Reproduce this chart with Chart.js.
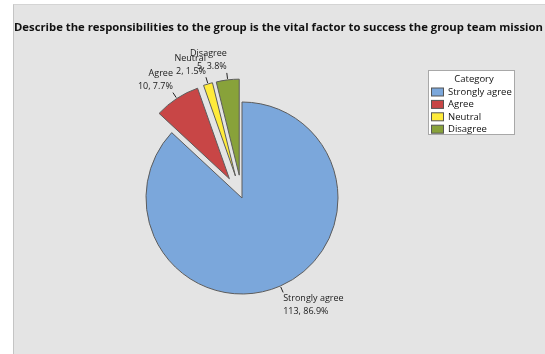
<!DOCTYPE html>
<html>
<head>
<meta charset="utf-8">
<script src="https://cdn.jsdelivr.net/npm/chart.js@4.4.1/dist/chart.umd.min.js"></script>
<style>
    html, body { margin: 0; padding: 0; background: #ffffff; }
    #wrap { position: relative; width: 545px; height: 354px; overflow: hidden; }
    #panel {
        position: absolute; left: 13px; top: 4px; right: 0; bottom: 0;
        background: #e4e4e4;
        border-left: 1px solid #c4c4c4;
        border-top: 1px solid #d4d4d4;
    }
    #chart { position: absolute; left: 0; top: 0; }
</style>
</head>
<body>
<div id="wrap">
    <div id="panel"></div>
    <canvas id="chart" width="545" height="354"></canvas>
</div>
<script>
const chartTitle = 'Describe the responsibilities to the group is the vital factor to success the group team mission';
const legendTitle = 'Category';
const categories = ['Strongly agree', 'Agree', 'Neutral', 'Disagree'];
const counts = [113, 10, 2, 5];
const sliceColors = ['#7BA7DB', '#C84646', '#FFEB3B', '#88A23A'];
// pulled-out distance of each slice, px
const explode = [0, 23, 23, 23];

const FONT = "'Open Sans', 'Noto Sans', sans-serif";
const total = counts.reduce((a, b) => a + b, 0);

function sliceCentre(arc, i) {
    const mid = (arc.startAngle + arc.endAngle) / 2;
    const d = explode[i] || 0;
    return { mid, x: arc.x + Math.cos(mid) * d, y: arc.y + Math.sin(mid) * d };
}

// move exploded slices out along their bisector without touching their radius
const explodePlugin = {
    id: 'explode',
    afterDatasetUpdate(chart, args) {
        const meta = chart.getDatasetMeta(args.index);
        meta.data.forEach((arc, i) => {
            const dist = explode[i] || 0;
            if (!dist) return;
            arc.draw = function (ctx) {
                const mid = (this.startAngle + this.endAngle) / 2;
                ctx.save();
                ctx.translate(Math.cos(mid) * dist, Math.sin(mid) * dist);
                Chart.ArcElement.prototype.draw.call(this, ctx);
                ctx.restore();
            };
        });
    }
};

// title, slice labels with leader lines, category box
const annotatePlugin = {
    id: 'annotate',
    afterDatasetsDraw(chart) {
        const ctx = chart.ctx;
        const meta = chart.getDatasetMeta(0);

        ctx.save();
        ctx.fillStyle = '#111111';
        ctx.font = `bold 11.3px ${FONT}`;
        ctx.textAlign = 'left';
        ctx.textBaseline = 'alphabetic';
        ctx.fillText(chartTitle, 14, 31);

        ctx.font = `9px ${FONT}`;
        ctx.textBaseline = 'middle';
        meta.data.forEach((arc, i) => {
            const c = sliceCentre(arc, i);
            const r = arc.outerRadius;
            const dx = Math.cos(c.mid), dy = Math.sin(c.mid);
            const x1 = c.x + dx * (r + 1), y1 = c.y + dy * (r + 1);
            const x2 = c.x + dx * (r + 7), y2 = c.y + dy * (r + 7);
            ctx.strokeStyle = '#222222';
            ctx.lineWidth = 1;
            ctx.beginPath();
            ctx.moveTo(x1, y1);
            ctx.lineTo(x2, y2);
            ctx.stroke();

            const pct = (counts[i] / total * 100).toFixed(1);
            const lines = [categories[i], `${counts[i]}, ${pct}%`];
            ctx.textAlign = dx >= 0 ? 'left' : 'right';
            const top = dy >= 0 ? y2 + 6 : y2 - 6 - 13;
            ctx.fillStyle = '#1a1a1a';
            lines.forEach((t, k) => ctx.fillText(t, x2, top + k * 13));
        });

        // category box, clipped at its lower edge
        const bx = 428.5, by = 70.5, bw = 86, bh = 64;
        ctx.fillStyle = '#ffffff';
        ctx.fillRect(bx, by, bw, bh);
        ctx.beginPath();
        ctx.rect(bx, by, bw, bh);
        ctx.clip();
        ctx.textAlign = 'center';
        ctx.fillStyle = '#111111';
        ctx.font = `9.5px ${FONT}`;
        ctx.fillText(legendTitle, 474, 79.5);
        ctx.textAlign = 'left';
        categories.forEach((name, i) => {
            const cy = 92 + i * 12.4;
            ctx.fillStyle = sliceColors[i];
            ctx.fillRect(431.5, cy - 4, 12, 8);
            ctx.strokeStyle = '#555555';
            ctx.strokeRect(431.5, cy - 4, 12, 8);
            ctx.fillStyle = '#111111';
            ctx.fillText(name, 448, cy);
        });
        ctx.restore();

        ctx.save();
        ctx.strokeStyle = '#a8a8a8';
        ctx.lineWidth = 1;
        ctx.strokeRect(bx, by, bw, bh);
        ctx.restore();
    }
};

new Chart(document.getElementById('chart'), {
    type: 'pie',
    data: {
        labels: categories,
        datasets: [{
            data: counts,
            backgroundColor: sliceColors,
            borderColor: '#5c5c5c',
            borderWidth: 1
        }]
    },
    options: {
        responsive: false,
        animation: false,
        radius: 96,
        layout: { padding: { left: 0, right: 61, top: 42, bottom: 0 } },
        plugins: {
            legend: { display: false },
            title: { display: false },
            tooltip: { enabled: false }
        }
    },
    plugins: [explodePlugin, annotatePlugin]
});
</script>
</body>
</html>
